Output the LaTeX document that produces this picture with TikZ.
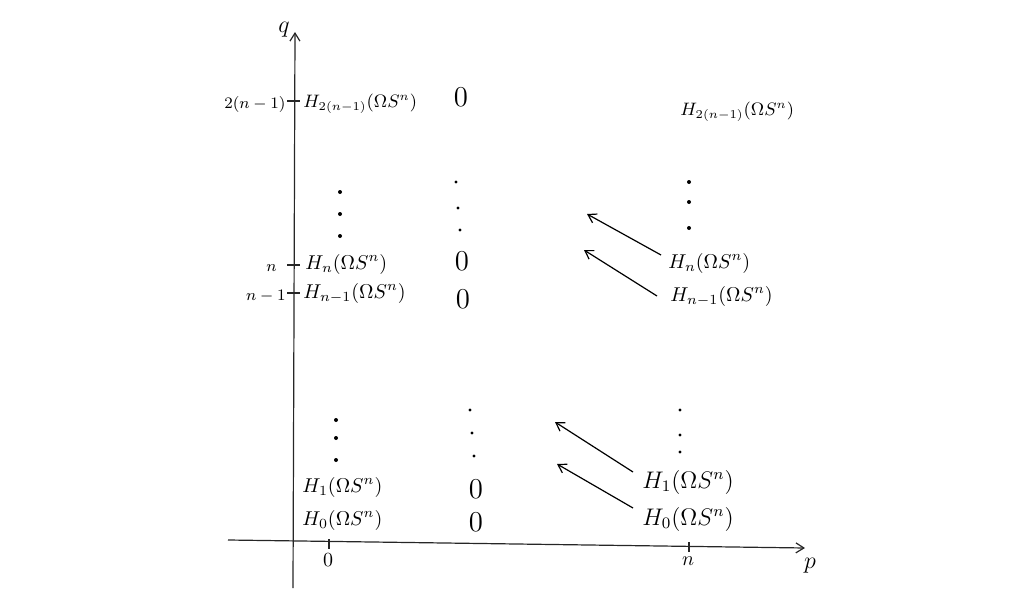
\documentclass[tikz,border=0pt]{standalone}
\usetikzlibrary{arrows.meta}
\begin{document}
\begin{tikzpicture}[x=0.5pt,y=-0.5pt,
  axis/.style={line width=0.6pt,black!85},
  tip/.style={-{Straight Barb[length=4pt,width=5pt]}},
  ent/.style={inner sep=0pt,font=\normalsize,anchor=west},
  zero/.style={inner sep=0pt,font=\Large},
  lab/.style={inner sep=1pt,font=\footnotesize},
  dotm/.style={circle,fill=black,inner sep=0pt,minimum size=2pt},
  conn/.style={line width=0.6pt,tip}]
\useasboundingbox (0,0) rectangle (1024,589);
% axes
\coordinate (qb) at (293,588);
\coordinate (qt) at (295,32);
\draw[axis,tip] (qb) -- (qt);
\coordinate (pl) at (228,540);
\coordinate (pr) at (805,548);
\draw[axis,tip] (pl) -- (pr);
\node[lab,font=\large] (qlab) at (284,30) {$q$};
\node[lab,font=\large] (plab) at (810,566) {$p$};
% q ticks
\foreach \yy/\nm in {101/t1,265/t2,293/t3}{
  \coordinate (\nm a) at (287,\yy); \coordinate (\nm b) at (300,\yy);
  \draw[axis] (\nm a) -- (\nm b);}
\node[lab,anchor=east] (l1) at (288,104) {$2(n-1)$};
\node[lab,anchor=east] (l2) at (279,268) {$n$};
\node[lab,anchor=east] (l3) at (288,296) {$n-1$};
% p ticks
\coordinate (u1a) at (329,539); \coordinate (u1b) at (329,549);
\draw[axis] (u1a) -- (u1b);
\coordinate (u2a) at (689,542); \coordinate (u2b) at (689,552);
\draw[axis] (u2a) -- (u2b);
\node[lab,font=\normalsize] (p0) at (328,560) {$0$};
\node[lab,font=\normalsize] (pn) at (688,561) {$n$};
% column 0
\node[ent,font=\small] (a1) at (303,104) {$H_{2(n-1)}(\Omega S^n)$};
\node[ent] (a2) at (305,264) {$H_n(\Omega S^n)$};
\node[ent] (a3) at (303,293) {$H_{n-1}(\Omega S^n)$};
\node[ent] (a4) at (302,487) {$H_1(\Omega S^n)$};
\node[ent] (a5) at (302,520) {$H_0(\Omega S^n)$};
\foreach \yy [count=\i] in {192,214,236}{\node[dotm] (ad\i) at (340,\yy) {};}
\foreach \yy [count=\i] in {420,438,460}{\node[dotm] (ae\i) at (336,\yy) {};}
% middle column
\node[zero] (m1) at (461,97) {$0$};
\node[zero] (m2) at (462,261) {$0$};
\node[zero] (m3) at (463,299) {$0$};
\node[zero] (m4) at (476,489) {$0$};
\node[zero] (m5) at (476,522) {$0$};
\node[dotm,minimum size=1.6pt] (md1) at (456,182) {};
\node[dotm,minimum size=1.6pt] (md2) at (458,208) {};
\node[dotm,minimum size=1.6pt] (md3) at (460,230) {};
\node[dotm,minimum size=1.6pt] (me1) at (470,410) {};
\node[dotm,minimum size=1.6pt] (me2) at (472,433) {};
\node[dotm,minimum size=1.6pt] (me3) at (474,456) {};
% right column
\node[ent,font=\small] (r1) at (680,112) {$H_{2(n-1)}(\Omega S^n)$};
\node[ent] (r2) at (668,263) {$H_n(\Omega S^n)$};
\node[ent] (r3) at (670,296) {$H_{n-1}(\Omega S^n)$};
\node[ent,font=\large] (r4) at (642,482) {$H_1(\Omega S^n)$};
\node[ent,font=\large] (r5) at (642,519) {$H_0(\Omega S^n)$};
\foreach \yy [count=\i] in {182,202,228}{\node[dotm] (rd\i) at (689,\yy) {};}
\foreach \yy [count=\i] in {410,435,452}{\node[dotm,minimum size=1.6pt] (re\i) at (680,\yy) {};}
% differentials
\coordinate (e2) at (587,214);
\coordinate (e3) at (584,250);
\coordinate (e4) at (555,422);
\coordinate (e5) at (557,464);
\draw[conn] ([xshift=-3.5pt,yshift=4pt]r2.west) -- (e2);
\draw[conn] ([xshift=-6.5pt]r3.west) -- (e3);
\draw[conn] ([xshift=-4.5pt,yshift=5pt]r4.west) -- (e4);
\draw[conn] ([xshift=-4.5pt,yshift=5.5pt]r5.west) -- (e5);
\end{tikzpicture}
\end{document}
